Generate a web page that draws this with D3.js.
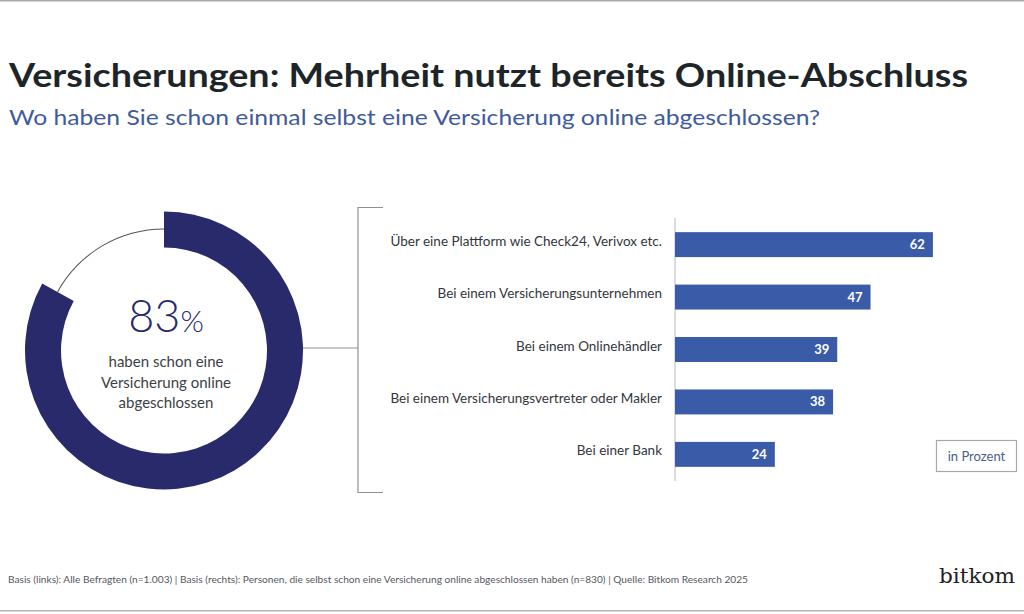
<!DOCTYPE html>
<html>
<head>
<meta charset="utf-8">
<script src="https://cdn.jsdelivr.net/npm/d3@7"></script>
<style>
  html, body { margin: 0; padding: 0; background: #ffffff; }
  svg { display: block; }
</style>
</head>
<body>
<svg id="chart" width="1024" height="614"></svg>
<script>
// ---- data ----
const titleText = "Versicherungen: Mehrheit nutzt bereits Online-Abschluss";
const subtitleText = "Wo haben Sie schon einmal selbst eine Versicherung online abgeschlossen?";
const donutShare = 83;
const donutLines = ["haben schon eine", "Versicherung online", "abgeschlossen"];
const categories = [
  "Über eine Plattform wie Check24, Verivox etc.",
  "Bei einem Versicherungsunternehmen",
  "Bei einem Onlinehändler",
  "Bei einem Versicherungsvertreter oder Makler",
  "Bei einer Bank"
];
const values = [62, 47, 39, 38, 24];
const unitLabel = "in Prozent";
const footerText = "Basis (links): Alle Befragten (n=1.003) | Basis (rechts): Personen, die selbst schon eine Versicherung online abgeschlossen haben (n=830) | Quelle: Bitkom Research 2025";
const logoText = "bitkom";

// ---- drawing ----
const svg = d3.select("#chart");
const FONT = "Lato, 'Open Sans', sans-serif";

// frame lines
svg.append("rect").attr("x", 0).attr("y", 0).attr("width", 1024).attr("height", 1.5).attr("fill", "#a9abb0");
svg.append("rect").attr("x", 0).attr("y", 610).attr("width", 1024).attr("height", 1.5).attr("fill", "#b4b6ba");

// title
svg.append("text")
  .attr("x", 9).attr("y", 87)
  .attr("font-family", FONT).attr("font-weight", 700).attr("font-size", 33)
  .attr("fill", "#1e2528")
  .attr("textLength", 959).attr("lengthAdjust", "spacingAndGlyphs")
  .text(titleText);

svg.append("text")
  .attr("x", 9).attr("y", 125)
  .attr("font-family", FONT).attr("font-weight", 400).attr("font-size", 22)
  .attr("fill", "#3f5b9c")
  .attr("textLength", 811).attr("lengthAdjust", "spacingAndGlyphs")
  .text(subtitleText);

// donut
const cx = 164, cy = 350.5;
const innerR = 103, outerR = 139;
const angle = d3.scaleLinear().domain([0, 100]).range([0, 2 * Math.PI]);
const g = svg.append("g").attr("transform", `translate(${cx},${cy})`);

// thin line for the remaining share
const thinArc = d3.arc().innerRadius(121).outerRadius(122)
  .startAngle(angle(donutShare)).endAngle(angle(100));
g.append("path").attr("d", thinArc()).attr("fill", "#555");

g.append("path")
  .attr("d", d3.arc().innerRadius(innerR).outerRadius(outerR).startAngle(angle(0)).endAngle(angle(donutShare))())
  .attr("fill", "#282a6c");

const big = svg.append("text")
  .attr("x", 166).attr("y", 332)
  .attr("text-anchor", "middle")
  .attr("font-family", FONT).attr("fill", "#282a6c");
big.append("tspan").attr("font-size", 45).attr("font-weight", 300).text(String(donutShare));
big.append("tspan").attr("font-size", 30).attr("font-weight", 300).text("%");

donutLines.forEach((t, i) => {
  svg.append("text")
    .attr("x", 166).attr("y", 367 + i * 20.5)
    .attr("text-anchor", "middle")
    .attr("font-family", FONT).attr("font-size", 15).attr("fill", "#3c3f45")
    .text(t);
});

// connector and bracket
svg.append("line").attr("x1", 303).attr("x2", 358).attr("y1", 348).attr("y2", 348)
  .attr("stroke", "#8e9096").attr("stroke-width", 1);
svg.append("path")
  .attr("d", "M383,207.5 H358 V492.5 H383")
  .attr("fill", "none").attr("stroke", "#8e9096").attr("stroke-width", 1.2);

// bars
const x = d3.scaleLinear().domain([0, 100]).range([675, 1091]);
const y = d3.scaleBand().domain(categories).range([218, 481]).paddingInner(0.524).paddingOuter(0.27);

svg.append("line").attr("x1", x(0)).attr("x2", x(0)).attr("y1", 218).attr("y2", 481)
  .attr("stroke", "#b8bac0").attr("stroke-width", 1);

svg.selectAll("rect.bar").data(values).join("rect")
  .attr("class", "bar")
  .attr("x", x(0))
  .attr("y", (d, i) => y(categories[i]))
  .attr("width", d => x(d) - x(0))
  .attr("height", y.bandwidth())
  .attr("fill", "#3a5ba8");

svg.selectAll("text.val").data(values).join("text")
  .attr("class", "val")
  .attr("x", d => x(d) - 8)
  .attr("y", (d, i) => y(categories[i]) + y.bandwidth() / 2 + 4.5)
  .attr("text-anchor", "end")
  .attr("font-family", FONT).attr("font-weight", 700).attr("font-size", 13)
  .attr("fill", "#ffffff")
  .text(d => d);

svg.selectAll("text.cat").data(categories).join("text")
  .attr("class", "cat")
  .attr("x", 662)
  .attr("y", d => y(d) + y.bandwidth() / 2 + 1)
  .attr("text-anchor", "end")
  .attr("font-family", FONT).attr("font-size", 13.5).attr("fill", "#33363c")
  .text(d => d);

// unit box
svg.append("rect").attr("x", 936.5).attr("y", 440.5).attr("width", 80).attr("height", 31)
  .attr("fill", "#fff").attr("stroke", "#a5a8b0").attr("stroke-width", 1.2);
svg.append("text").attr("x", 976.5).attr("y", 460.5).attr("text-anchor", "middle")
  .attr("font-family", FONT).attr("font-size", 13).attr("fill", "#4b5c8c")
  .text(unitLabel);

// footer
svg.append("text").attr("x", 8).attr("y", 583)
  .attr("font-family", FONT).attr("font-size", 9.5).attr("fill", "#55585e")
  .attr("textLength", 740).attr("lengthAdjust", "spacingAndGlyphs")
  .text(footerText);

svg.append("text").attr("x", 939).attr("y", 583)
  .attr("font-family", "'DejaVu Serif', serif").attr("font-size", 21).attr("fill", "#222")
  .attr("textLength", 76).attr("lengthAdjust", "spacingAndGlyphs")
  .text(logoText);
</script>
</body>
</html>
